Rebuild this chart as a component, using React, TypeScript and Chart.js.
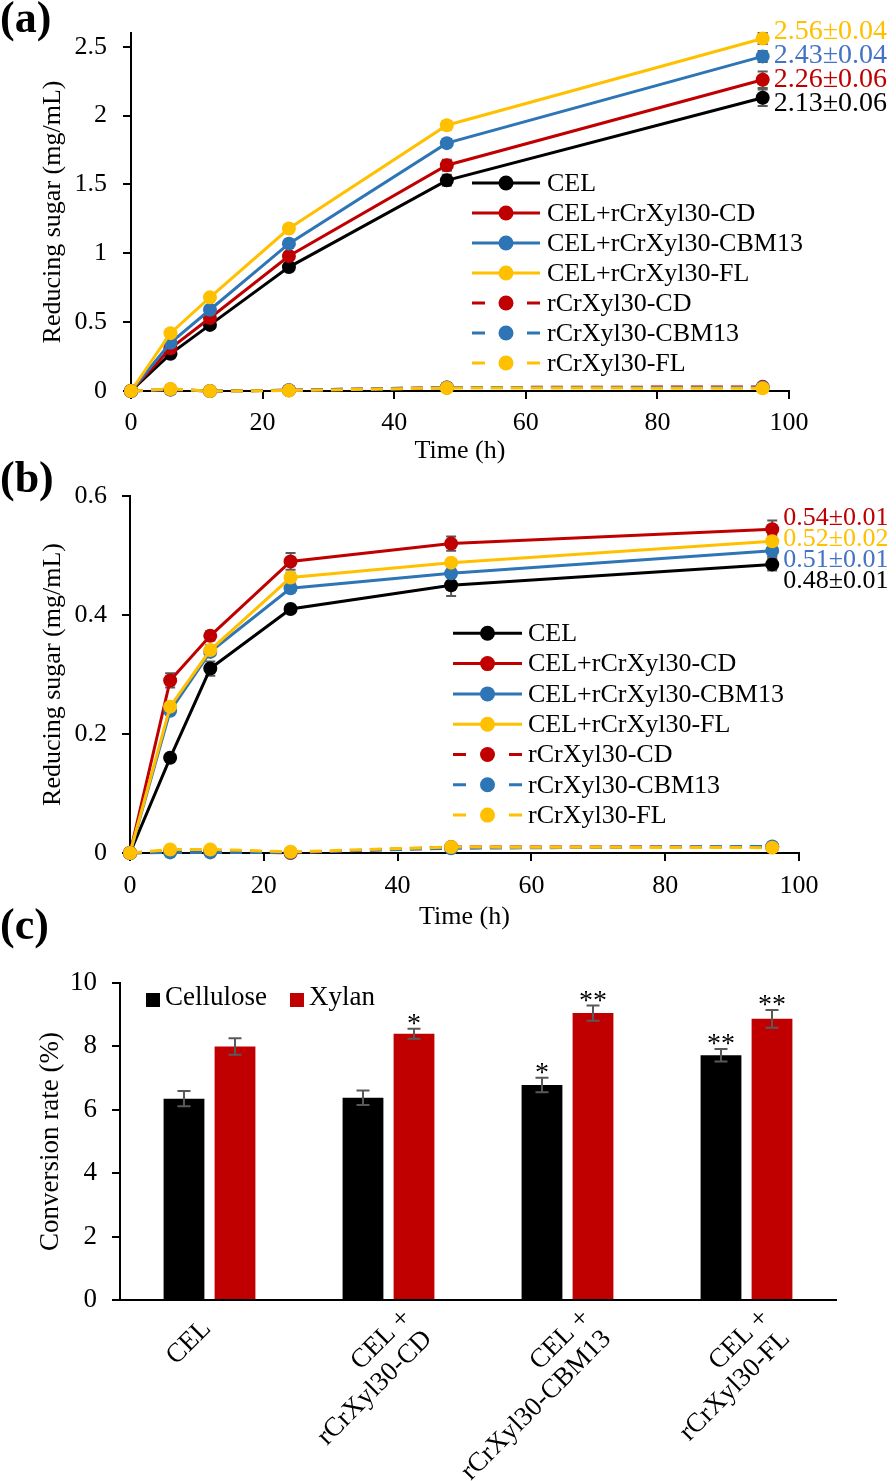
import React, { useEffect, useRef } from 'react';
import { Chart, registerables } from 'chart.js';

Chart.register(...registerables);

const FONT = "'Liberation Serif', 'Times New Roman', serif";
Chart.defaults.font.family = FONT;

// ---------- shared series definitions ----------
const TIME_H = [0, 6, 12, 24, 48, 96];
const SERIES_LABELS = [
  'CEL',
  'CEL+rCrXyl30-CD',
  'CEL+rCrXyl30-CBM13',
  'CEL+rCrXyl30-FL',
  'rCrXyl30-CD',
  'rCrXyl30-CBM13',
  'rCrXyl30-FL',
];
const SERIES_COLORS = ['#000000', '#C00000', '#2E75B6', '#FFC000', '#C00000', '#2E75B6', '#FFC000'];
const SERIES_DASHED = [false, false, false, false, true, true, true];
const END_LABEL_COLORS = ['#000000', '#C00000', '#4472C4', '#FFC000', '#000000', '#000000', '#000000'];

// ---------- panel (a) ----------
const A_CEL = [0, 0.27, 0.48, 0.9, 1.53, 2.13];
const A_CEL_CD = [0, 0.31, 0.53, 0.98, 1.64, 2.26];
const A_CEL_CBM13 = [0, 0.35, 0.59, 1.07, 1.8, 2.43];
const A_CEL_FL = [0, 0.42, 0.68, 1.18, 1.93, 2.56];
const A_CD = [0, 0.01, 0.0, 0.005, 0.025, 0.03];
const A_CBM13 = [0, 0.01, 0.0, 0.005, 0.025, 0.025];
const A_FL = [0, 0.015, 0.0, 0.003, 0.022, 0.02];

const A_ERR_CEL = [0, 0.02, 0.02, 0.03, 0.04, 0.06];
const A_ERR_CEL_CD = [0, 0.02, 0.02, 0.03, 0.04, 0.06];
const A_ERR_CEL_CBM13 = [0, 0.02, 0.02, 0.03, 0.03, 0.04];
const A_ERR_CEL_FL = [0, 0.02, 0.02, 0.02, 0.03, 0.04];
const A_ERR_CD = [0, 0, 0, 0, 0.005, 0.005];
const A_ERR_CBM13 = [0, 0, 0, 0, 0.005, 0.005];
const A_ERR_FL = [0, 0, 0, 0, 0.005, 0.005];

const A_END_LABELS = ['2.13±0.06', '2.26±0.06', '2.43±0.04', '2.56±0.04', '', '', ''];
const A_Y_MAX = 2.6;
const A_Y_STEP = 0.5;

// ---------- panel (b) ----------
const B_CEL = [0, 0.16, 0.31, 0.41, 0.45, 0.485];
const B_CEL_CD = [0, 0.29, 0.365, 0.49, 0.52, 0.544];
const B_CEL_CBM13 = [0, 0.239, 0.338, 0.445, 0.47, 0.508];
const B_CEL_FL = [0, 0.246, 0.341, 0.463, 0.488, 0.524];
const B_CD = [0, 0.003, 0.003, 0.0, 0.01, 0.01];
const B_CBM13 = [0, 0.001, 0.001, 0.001, 0.008, 0.011];
const B_FL = [0, 0.006, 0.006, 0.002, 0.01, 0.009];

const B_ERR_CEL = [0, 0.006, 0.012, 0.006, 0.018, 0.01];
const B_ERR_CEL_CD = [0, 0.012, 0.008, 0.014, 0.012, 0.015];
const B_ERR_CEL_CBM13 = [0, 0.006, 0.006, 0.006, 0.006, 0.01];
const B_ERR_CEL_FL = [0, 0.006, 0.008, 0.008, 0.006, 0.01];
const B_ERR_CD = [0, 0, 0, 0, 0.003, 0.003];
const B_ERR_CBM13 = [0, 0, 0, 0, 0.003, 0.003];
const B_ERR_FL = [0, 0, 0, 0, 0.003, 0.003];

const B_END_LABELS = ['0.48±0.01', '0.54±0.01', '0.51±0.01', '0.52±0.02', '', '', ''];
const B_Y_MAX = 0.6;
const B_Y_STEP = 0.2;

// ---------- panel (c) ----------
const C_CATEGORIES = [['CEL'], ['CEL +', 'rCrXyl30-CD'], ['CEL +', 'rCrXyl30-CBM13'], ['CEL +', 'rCrXyl30-FL']];
const C_CELLULOSE = [6.35, 6.38, 6.78, 7.72];
const C_XYLAN = [8.0, 8.4, 9.05, 8.87];
const C_CELLULOSE_ERR = [0.24, 0.23, 0.23, 0.2];
const C_XYLAN_ERR = [0.26, 0.16, 0.24, 0.28];
const C_CELLULOSE_SIG = ['', '', '*', '**'];
const C_XYLAN_SIG = ['', '*', '**', '**'];
const C_Y_MAX = 10;
const C_Y_STEP = 2;

const W = 896;

// ---------- plugins ----------
function valueOf(raw: any) {
  return typeof raw === 'number' ? raw : raw.y;
}

function errorBarPlugin(phase: 'before' | 'after', capHalf: number) {
  const draw = (chart: any) => {
    const ctx = chart.ctx;
    const ys = chart.scales.y;
    chart.data.datasets.forEach((ds: any, i: number) => {
      if (!ds.errors) return;
      const meta = chart.getDatasetMeta(i);
      meta.data.forEach((el: any, j: number) => {
        const e = ds.errors[j];
        if (!e) return;
        const v = valueOf(ds.data[j]);
        const top = ys.getPixelForValue(v + e);
        const bot = ys.getPixelForValue(v - e);
        ctx.save();
        ctx.strokeStyle = '#595959';
        ctx.lineWidth = 2;
        ctx.setLineDash([]);
        ctx.beginPath();
        ctx.moveTo(el.x, top);
        ctx.lineTo(el.x, bot);
        ctx.moveTo(el.x - capHalf, top);
        ctx.lineTo(el.x + capHalf, top);
        ctx.moveTo(el.x - capHalf, bot);
        ctx.lineTo(el.x + capHalf, bot);
        ctx.stroke();
        ctx.restore();
      });
    });
  };
  return phase === 'before'
    ? { id: 'errorBarsBefore', beforeDatasetsDraw: draw }
    : { id: 'errorBarsAfter', afterDatasetsDraw: draw };
}

function endLabelPlugin(fontSize: number, dx: number, gap: number, dy: number) {
  return {
    id: 'endLabels',
    afterDatasetsDraw(chart: any) {
      const ctx = chart.ctx;
      const items: any[] = [];
      chart.data.datasets.forEach((ds: any, i: number) => {
        if (!ds.endLabel) return;
        const meta = chart.getDatasetMeta(i);
        const el = meta.data[meta.data.length - 1];
        items.push({ text: ds.endLabel, color: ds.endLabelColor, x: el.x + dx, y0: el.y, y: el.y });
      });
      items.sort((a, b) => a.y0 - b.y0);
      let clusters = items.map((it) => ({ members: [it], center: it.y0 }));
      let changed = true;
      while (changed) {
        changed = false;
        for (let i = 0; i < clusters.length - 1; i++) {
          const a = clusters[i];
          const b = clusters[i + 1];
          const aBottom = a.center + ((a.members.length - 1) * gap) / 2;
          const bTop = b.center - ((b.members.length - 1) * gap) / 2;
          if (bTop - aBottom < gap) {
            const members = [...a.members, ...b.members];
            const center = members.reduce((s, m) => s + m.y0, 0) / members.length;
            clusters.splice(i, 2, { members, center });
            changed = true;
            break;
          }
        }
      }
      clusters.forEach((c) =>
        c.members.forEach((m, k) => {
          m.y = c.center + (k - (c.members.length - 1) / 2) * gap;
        })
      );
      ctx.save();
      ctx.font = `${fontSize}px ${FONT}`;
      ctx.textAlign = 'left';
      ctx.textBaseline = 'middle';
      items.forEach((it) => {
        ctx.fillStyle = it.color;
        ctx.fillText(it.text, it.x, it.y + dy);
      });
      ctx.restore();
    },
  };
}

function lineLegendPlugin(x0: number, y0: number, step: number, sampleW: number, textDx: number) {
  return {
    id: 'lineLegend',
    afterDraw(chart: any) {
      const ctx = chart.ctx;
      ctx.save();
      chart.data.datasets.forEach((ds: any, i: number) => {
        const y = y0 + i * step;
        ctx.strokeStyle = ds.borderColor;
        ctx.lineWidth = 3;
        ctx.setLineDash([]);
        ctx.beginPath();
        if (ds.borderDash && ds.borderDash.length) {
          const d = ds.borderDash[0] + 1;
          ctx.moveTo(x0, y);
          ctx.lineTo(x0 + d, y);
          ctx.moveTo(x0 + sampleW - d, y);
          ctx.lineTo(x0 + sampleW, y);
        } else {
          ctx.moveTo(x0, y);
          ctx.lineTo(x0 + sampleW, y);
        }
        ctx.stroke();
        ctx.fillStyle = ds.pointBackgroundColor;
        ctx.beginPath();
        ctx.arc(x0 + sampleW / 2, y, 7.5, 0, Math.PI * 2);
        ctx.fill();
        ctx.fillStyle = '#000';
        ctx.font = `26px ${FONT}`;
        ctx.textAlign = 'left';
        ctx.textBaseline = 'middle';
        ctx.fillText(ds.label, x0 + textDx, y + 1);
      });
      ctx.restore();
    },
  };
}

function boxLegendPlugin(x0: number, yc: number, box: number, gapText: number, gapItem: number) {
  return {
    id: 'boxLegend',
    afterDraw(chart: any) {
      const ctx = chart.ctx;
      ctx.save();
      ctx.font = `27px ${FONT}`;
      ctx.textAlign = 'left';
      ctx.textBaseline = 'middle';
      let x = x0;
      chart.data.datasets.forEach((ds: any) => {
        ctx.fillStyle = ds.backgroundColor;
        ctx.fillRect(x, yc - box / 2, box, box);
        x += box + gapText;
        ctx.fillStyle = '#000';
        ctx.fillText(ds.label, x, yc - 2);
        x += ctx.measureText(ds.label).width + gapItem;
      });
      ctx.restore();
    },
  };
}

function sigPlugin(fontSize: number, lift: number) {
  return {
    id: 'sigStars',
    afterDatasetsDraw(chart: any) {
      const ctx = chart.ctx;
      const ys = chart.scales.y;
      ctx.save();
      ctx.font = `${fontSize}px ${FONT}`;
      ctx.fillStyle = '#000';
      ctx.textAlign = 'center';
      ctx.textBaseline = 'alphabetic';
      chart.data.datasets.forEach((ds: any, i: number) => {
        const meta = chart.getDatasetMeta(i);
        meta.data.forEach((el: any, j: number) => {
          const s = ds.sig && ds.sig[j];
          if (!s) return;
          const top = ys.getPixelForValue(ds.data[j] + (ds.errors ? ds.errors[j] : 0));
          ctx.fillText(s, el.x, top + lift);
        });
      });
      ctx.restore();
    },
  };
}

function rotatedLabelPlugin(lines: string[][], fontSize: number, lh: number) {
  return {
    id: 'rotLabels',
    afterDraw(chart: any) {
      const ctx = chart.ctx;
      const xs = chart.scales.x;
      const base = chart.chartArea.bottom;
      ctx.save();
      ctx.font = `${fontSize}px ${FONT}`;
      ctx.fillStyle = '#000';
      ctx.textAlign = 'right';
      ctx.textBaseline = 'middle';
      lines.forEach((ls, i) => {
        const cx = xs.getPixelForValue(i);
        const n = ls.length;
        const ax = n > 1 ? 29 : -2.5;
        ctx.save();
        ctx.translate(cx + ax, base + 24.5);
        ctx.rotate(-Math.PI / 4);
        ls.forEach((t, k) => {
          ctx.fillText(t, 0, (k - (n - 1) / 2) * lh);
        });
        ctx.restore();
      });
      ctx.restore();
    },
  };
}

function letterPlugin(text: string, baseline: number) {
  return {
    id: 'panelLetter',
    afterDraw(chart: any) {
      const ctx = chart.ctx;
      ctx.save();
      ctx.font = `bold 44px ${FONT}`;
      ctx.fillStyle = '#000';
      ctx.textAlign = 'left';
      ctx.textBaseline = 'alphabetic';
      ctx.fillText(text, 0, baseline);
      ctx.restore();
    },
  };
}

// ---------- builders ----------
const axisGrid = {
  display: true,
  drawOnChartArea: false,
  drawTicks: true,
  tickLength: 8,
  tickWidth: 2,
  tickColor: '#000',
  color: '#000',
  lineWidth: 2,
};
const axisBorder = { display: true, color: '#000', width: 2 };

function fmt(v: number) {
  return String(Number(Number(v).toFixed(2)));
}

function lineDatasets(values: number[][], errors: number[][], endLabels: string[]) {
  return values.map((vals, i) => ({
    label: SERIES_LABELS[i],
    data: TIME_H.map((t, j) => ({ x: t, y: vals[j] })),
    errors: errors[i],
    endLabel: endLabels[i],
    endLabelColor: END_LABEL_COLORS[i],
    borderColor: SERIES_COLORS[i],
    backgroundColor: SERIES_COLORS[i],
    pointBackgroundColor: SERIES_COLORS[i],
    pointBorderColor: SERIES_COLORS[i],
    pointBorderWidth: 0,
    pointRadius: 7,
    pointHoverRadius: 7,
    borderWidth: 3,
    borderDash: SERIES_DASHED[i] ? [12, 8] : [],
    tension: 0,
    clip: false,
    order: -i,
  }));
}

function lineConfig(p: {
  datasets: any[];
  yMax: number;
  yStep: number;
  height: number;
  area: { left: number; right: number; top: number; bottom: number };
  xTickPad: number;
  xTitlePad: number;
  yTickPad: number;
  plugins: any[];
}) {
  const { area } = p;
  return {
    type: 'line',
    data: { datasets: p.datasets },
    options: {
      responsive: false,
      animation: false,
      devicePixelRatio: 1,
      events: [],
      layout: { padding: { left: 0, top: area.top, right: W - area.right, bottom: 0 } },
      plugins: { legend: { display: false }, tooltip: { enabled: false } },
      scales: {
        x: {
          type: 'linear',
          min: 0,
          max: 100,
          afterFit: (s: any) => {
            s.height = p.height - area.bottom;
          },
          ticks: {
            stepSize: 20,
            color: '#000',
            padding: p.xTickPad,
            maxRotation: 0,
            font: { family: FONT, size: 26, lineHeight: 1.2 },
          },
          grid: axisGrid,
          border: axisBorder,
          title: {
            display: true,
            text: 'Time (h)',
            color: '#000',
            font: { family: FONT, size: 26, lineHeight: 1.2 },
            padding: { top: 0, bottom: p.xTitlePad },
          },
        },
        y: {
          type: 'linear',
          min: 0,
          max: p.yMax,
          afterFit: (s: any) => {
            s.width = area.left;
          },
          ticks: {
            stepSize: p.yStep,
            includeBounds: false,
            color: '#000',
            padding: p.yTickPad,
            font: { family: FONT, size: 26, lineHeight: 1.2 },
            callback: (v: any) => fmt(v),
          },
          grid: axisGrid,
          border: axisBorder,
          title: {
            display: true,
            text: 'Reducing sugar (mg/mL)',
            color: '#000',
            font: { family: FONT, size: 26, lineHeight: 1.2 },
            padding: { top: 38, bottom: 0 },
          },
        },
      },
    },
    plugins: p.plugins,
  };
}

function makeA() {
  const datasets = lineDatasets(
    [A_CEL, A_CEL_CD, A_CEL_CBM13, A_CEL_FL, A_CD, A_CBM13, A_FL],
    [A_ERR_CEL, A_ERR_CEL_CD, A_ERR_CEL_CBM13, A_ERR_CEL_FL, A_ERR_CD, A_ERR_CBM13, A_ERR_FL],
    A_END_LABELS
  );
  return lineConfig({
    datasets,
    yMax: A_Y_MAX,
    yStep: A_Y_STEP,
    height: 480,
    area: { left: 131, right: 789, top: 33, bottom: 391 },
    xTickPad: 9,
    xTitlePad: 13,
    yTickPad: 16,
    plugins: [
      errorBarPlugin('before', 5),
      endLabelPlugin(28, 11, 24, 0),
      lineLegendPlugin(472, 183, 30, 68, 75),
      letterPlugin('(a)', 32),
    ],
  });
}

function makeB() {
  const datasets = lineDatasets(
    [B_CEL, B_CEL_CD, B_CEL_CBM13, B_CEL_FL, B_CD, B_CBM13, B_FL],
    [B_ERR_CEL, B_ERR_CEL_CD, B_ERR_CEL_CBM13, B_ERR_CEL_FL, B_ERR_CD, B_ERR_CBM13, B_ERR_FL],
    B_END_LABELS
  );
  return lineConfig({
    datasets,
    yMax: B_Y_MAX,
    yStep: B_Y_STEP,
    height: 500,
    area: { left: 130, right: 799, top: 56, bottom: 413 },
    xTickPad: 10,
    xTitlePad: 7,
    yTickPad: 15,
    plugins: [
      errorBarPlugin('before', 5),
      endLabelPlugin(26, 11, 21, 3),
      lineLegendPlugin(453, 193.3, 30.3, 69, 75),
      letterPlugin('(b)', 52),
    ],
  });
}

function makeC() {
  const height = 586;
  const area = { left: 120, right: 836, top: 88, bottom: 405 };
  return {
    type: 'bar',
    data: {
      labels: C_CATEGORIES.map((l) => l.join(' ')),
      datasets: [
        {
          label: 'Cellulose',
          data: C_CELLULOSE,
          errors: C_CELLULOSE_ERR,
          sig: C_CELLULOSE_SIG,
          backgroundColor: '#000000',
          barPercentage: 0.8,
          categoryPercentage: 0.57,
        },
        {
          label: 'Xylan',
          data: C_XYLAN,
          errors: C_XYLAN_ERR,
          sig: C_XYLAN_SIG,
          backgroundColor: '#C00000',
          barPercentage: 0.8,
          categoryPercentage: 0.57,
        },
      ],
    },
    options: {
      responsive: false,
      animation: false,
      devicePixelRatio: 1,
      events: [],
      layout: { padding: { left: 0, top: area.top, right: W - area.right, bottom: 0 } },
      plugins: { legend: { display: false }, tooltip: { enabled: false } },
      scales: {
        x: {
          afterFit: (s: any) => {
            s.height = height - area.bottom;
          },
          ticks: { display: false },
          grid: { display: false },
          border: axisBorder,
        },
        y: {
          min: 0,
          max: C_Y_MAX,
          afterFit: (s: any) => {
            s.width = area.left;
          },
          ticks: {
            stepSize: C_Y_STEP,
            color: '#000',
            padding: 15,
            font: { family: FONT, size: 27, lineHeight: 1.2 },
            callback: (v: any) => fmt(v),
          },
          grid: axisGrid,
          border: axisBorder,
          title: {
            display: true,
            text: 'Conversion rate (%)',
            color: '#000',
            font: { family: FONT, size: 27, lineHeight: 1.2 },
            padding: { top: 35, bottom: 0 },
          },
        },
      },
    },
    plugins: [
      errorBarPlugin('after', 6.5),
      sigPlugin(28, 3),
      boxLegendPlugin(146, 105, 14, 5, 23),
      rotatedLabelPlugin(C_CATEGORIES, 27, 29.5),
      letterPlugin('(c)', 44),
    ],
  };
}

function ChartCanvas({ top, height, make }: { top: number; height: number; make: () => any }) {
  const ref = useRef<HTMLCanvasElement>(null);
  useEffect(() => {
    const chart = new Chart(ref.current as HTMLCanvasElement, make());
    return () => chart.destroy();
  }, []);
  return (
    <canvas
      ref={ref}
      width={W}
      height={height}
      style={{ position: 'absolute', left: 0, top, width: W, height, display: 'block' }}
    />
  );
}

export default function App() {
  return (
    <div style={{ position: 'absolute', left: 0, top: 0, width: W, height: 1481, background: '#fff', overflow: 'hidden' }}>
      <ChartCanvas top={0} height={480} make={makeA} />
      <ChartCanvas top={440} height={500} make={makeB} />
      <ChartCanvas top={895} height={586} make={makeC} />
    </div>
  );
}
